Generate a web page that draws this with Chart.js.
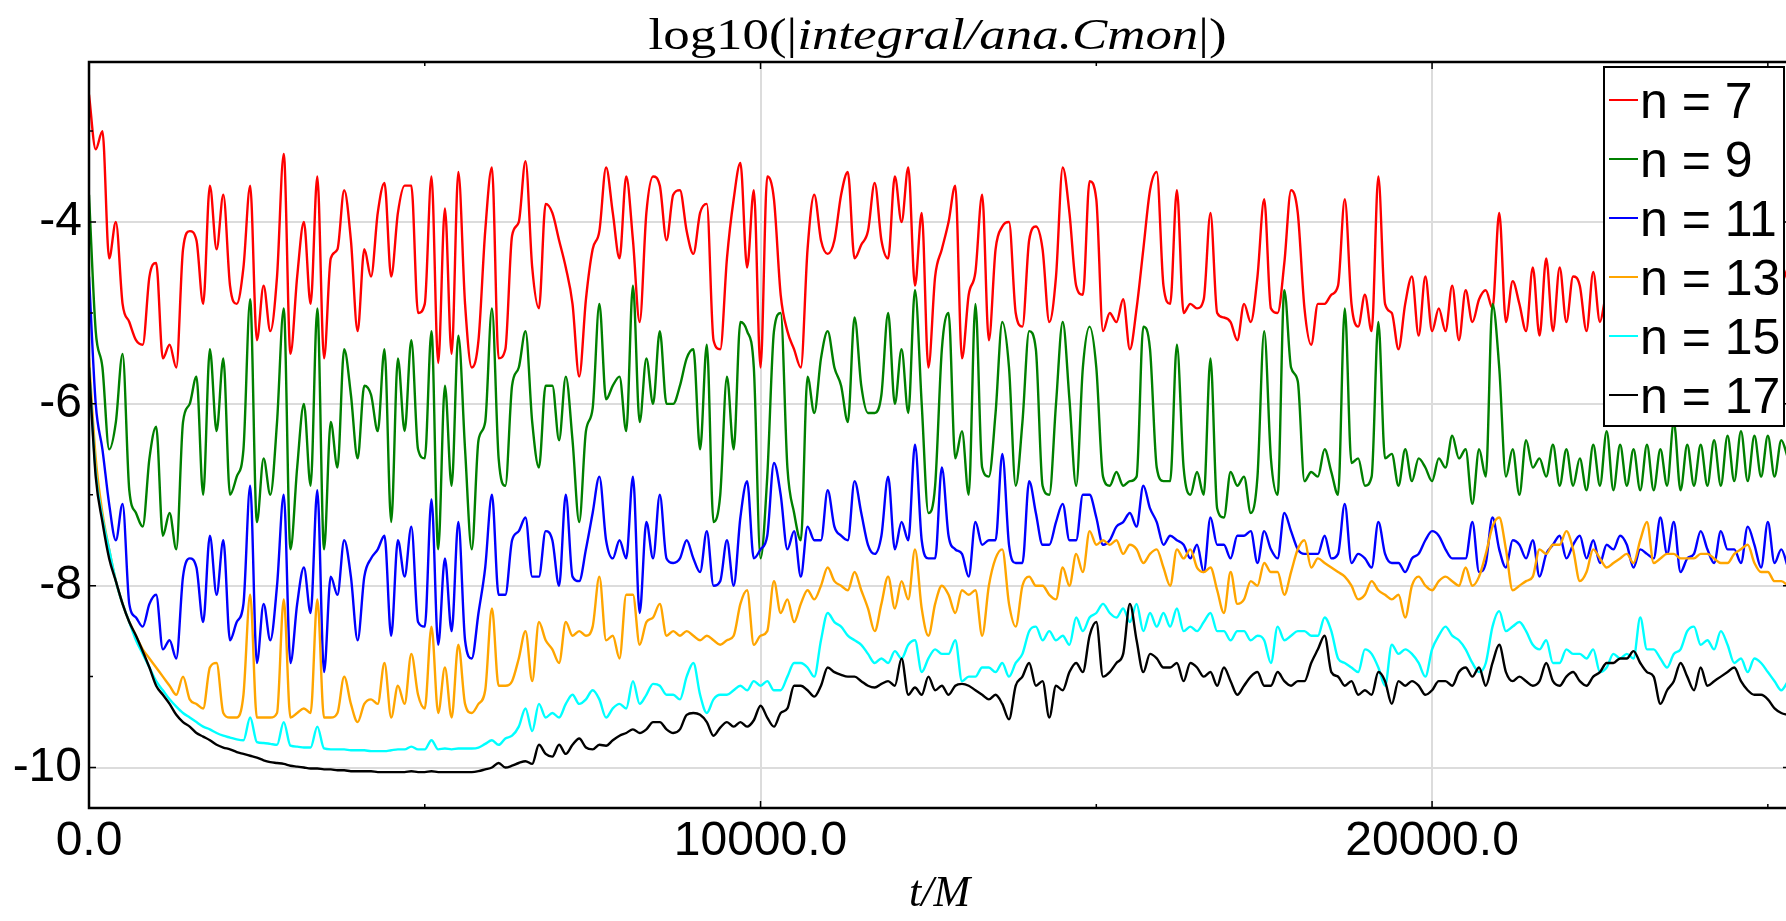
<!DOCTYPE html>
<html>
<head>
<meta charset="utf-8">
<script src="https://cdn.jsdelivr.net/npm/chart.js@4.4.0/dist/chart.umd.min.js"></script>
<style>
  html, body { margin: 0; padding: 0; background: #fff; overflow: hidden; }
  #wrap { width: 1792px; height: 921px; }
</style>
</head>
<body>
<div id="wrap"><canvas id="plot" width="1792" height="921"></canvas></div>
<script>
// sample times t/M: one sample every 100, from 0 to 25300
const tStep = 100;
const tCount = 254;
const tValues = Array.from({ length: tCount }, (_, i) => i * tStep);

const seriesLabels = ['n = 7', 'n = 9', 'n = 11', 'n = 13', 'n = 15', 'n = 17'];
const seriesColors = ['#ff0000', '#008000', '#0000ff', '#ffa500', '#00ffff', '#000000'];

// log10(|integral/ana.Cmon|) for each resolution
const n7 = [
  -2.6, -3.2, -3.0, -4.4, -4.0, -4.9, -5.1, -5.3, -5.35, -4.6,
  -4.45, -5.5, -5.35, -5.6, -4.3, -4.1, -4.2, -4.9, -3.6, -4.3,
  -3.7, -4.7, -4.9, -4.5, -3.6, -5.3, -4.7, -5.2, -4.6, -3.25,
  -5.45, -4.6, -4.0, -4.9, -3.5, -5.5, -4.4, -4.3, -3.65, -4.2,
  -5.2, -4.3, -4.6,
  -3.9, -3.57, -4.6, -3.9, -3.6, -3.6, -5.0, -4.9, -3.5, -5.55,
  -3.85, -5.45, -3.45, -4.9, -5.6, -5.3, -4.1, -3.4, -5.5, -5.4,
  -4.15, -4.0, -3.33, -4.5, -4.95, -3.8, -3.9, -4.2, -4.5, -4.9,
  -5.7, -4.85, -4.3, -4.1, -3.4, -3.9, -4.4, -3.5, -4.2, -5.1,
  -3.9, -3.5, -3.6, -4.2,
  -3.7, -3.65, -4.1, -4.35, -3.9, -3.8, -5.3, -5.4, -4.4, -3.75,
  -3.35, -4.5, -3.65, -5.6, -3.5, -3.75, -4.8, -5.2, -5.4, -5.6,
  -4.3, -3.7, -4.2, -4.35, -4.2, -3.7, -3.45, -4.4, -4.25, -4.1,
  -3.57, -4.2, -4.4, -3.5, -4.0, -3.4, -4.7, -3.9, -5.6, -4.6,
  -4.3, -4.0, -3.6, -5.5,
  -4.8, -4.55, -3.7, -5.3, -4.3, -4.05, -4.0, -5.0, -5.15, -4.2,
  -4.05, -4.3, -5.1, -4.6, -3.4, -3.9, -4.7, -4.8, -3.55, -3.75,
  -5.2, -5.0, -5.1, -4.85, -5.4, -4.95, -4.3, -3.65, -3.45, -4.7,
  -4.9, -3.65, -5.0, -4.9, -4.95, -4.85, -3.9, -5.0, -5.05, -5.1,
  -5.3, -4.9, -5.1, -4.6,
  -3.75, -4.95, -5.0, -4.45, -3.65, -3.9, -4.95, -5.35, -4.9, -4.9,
  -4.8, -4.7, -3.75, -4.9, -5.15, -4.8, -5.2, -3.5, -4.9, -5.0,
  -5.4, -4.9, -4.6, -5.25, -4.6, -5.2, -4.95, -5.2, -4.7, -5.3,
  -4.75, -5.1, -4.85, -4.75, -4.95, -3.9, -5.1, -4.65, -4.9, -5.2,
  -4.5, -5.25, -4.4,
  -5.2, -4.5, -5.1, -4.6, -4.7, -5.2, -4.55, -5.1, -4.8, -5.0,
  null, null, null, null, null, null, null, null, null, null,
  null, null, null, null, null, null, null, null, null, null,
  null, null, null, null, -4.7, -4.5
];

const n9 = [
  -3.7, -5.2, -5.6, -6.5, -6.2, -5.45, -6.95, -7.2, -7.35, -6.6,
  -6.25, -7.45, -7.2, -7.6, -6.2, -6.0, -5.7, -7.0, -5.4, -6.3,
  -5.5, -7.0, -6.8, -6.5, -4.85, -7.3, -6.6, -7.0, -6.2, -4.95,
  -7.6, -6.7, -6.0, -6.9, -4.95, -7.6, -6.2, -6.7, -5.4, -5.9,
  -6.6, -5.8, -5.9,
  -6.3, -5.4, -7.3, -5.5, -6.3, -5.3, -6.5, -6.6, -5.2, -7.6,
  -5.8, -6.9, -5.25, -6.5, -7.6, -6.4, -6.2, -4.95, -6.6, -6.9,
  -5.8, -5.6, -5.2, -6.2, -6.7, -5.8, -5.8, -6.4, -5.7, -6.4,
  -7.3, -6.3, -6.05, -4.9, -5.95, -5.8, -5.7, -6.3, -4.7, -6.2,
  -5.5, -6.0, -5.2, -6.0,
  -6.0, -5.8, -5.5, -5.4, -6.5, -5.35, -7.3, -7.0, -5.7, -6.5,
  -5.1, -5.2, -5.6, -7.7, -6.8, -5.2, -5.0, -6.7, -7.2, -7.5,
  -5.7, -6.1, -5.5, -5.2, -5.6, -5.8, -6.2, -5.05, -5.8, -6.1,
  -6.1, -5.9, -5.0, -6.0, -5.4, -6.1, -4.75, -6.0, -7.2, -6.9,
  -5.4, -5.0, -6.6, -6.3,
  -7.0, -4.9, -6.7, -6.8, -6.1, -5.1, -5.6, -6.9, -6.2, -5.2,
  -5.4, -6.9, -7.0, -6.0, -5.1, -5.95, -6.9, -5.6, -5.15, -5.6,
  -6.8, -6.9, -6.75, -6.9, -6.85, -6.8, -5.15, -5.4, -6.7, -6.85,
  -6.85, -5.35, -6.7, -7.0, -6.75, -7.0, -5.5, -7.15, -7.25, -6.75,
  -6.9, -6.8, -7.2, -6.8,
  -5.2, -6.6, -7.0, -4.75, -5.6, -5.75, -6.85, -6.75, -6.8, -6.5,
  -6.75, -7.0, -4.95, -6.65, -6.6, -6.9, -6.8, -5.1, -6.6, -6.55,
  -6.9, -6.5, -6.85, -6.6, -6.7, -6.85, -6.6, -6.7, -6.35, -6.6,
  -6.5, -7.1, -6.5, -6.8, -4.9, -5.6, -6.8, -6.5, -7.0, -6.4,
  -6.7, -6.6, -6.8,
  -6.45, -6.9, -6.5, -6.9, -6.6, -6.95, -6.45, -6.9, -6.3, -6.95,
  -6.45, -6.9, -6.5, -6.95, -6.45, -6.95, -6.5, -6.9, -6.2, -6.95,
  -6.45, -6.9, -6.45, -6.9, -6.4, -6.9, -6.35, -6.85, -6.3, -6.85,
  -6.35, -6.8, -6.35, -6.8, -6.4, -6.6
];

const n11 = [
  -4.6, -6.0, -6.5, -7.1, -7.5, -7.1, -8.2, -8.35, -8.45, -8.2,
  -8.1, -8.7, -8.6, -8.8, -7.9, -7.7, -7.8, -8.4, -7.45, -8.1,
  -7.5, -8.6, -8.4, -8.2, -6.9, -8.85, -8.2, -8.6, -8.0, -7.0,
  -8.85, -8.2, -7.8, -8.3, -6.95, -8.95, -7.9, -8.1, -7.5, -7.9,
  -8.6, -7.9, -7.7,
  -7.6, -7.45, -8.55, -7.5, -7.9, -7.35, -8.4, -8.45, -7.05, -8.65,
  -7.7, -8.5, -7.3, -8.6, -8.8, -8.3, -7.8, -7.0, -8.1, -8.1,
  -7.5, -7.4, -7.25, -7.9, -7.9, -7.4, -7.5, -8.0, -7.0, -7.9,
  -7.95, -7.6, -7.2, -6.8, -7.5, -7.7, -7.5, -7.7, -6.8, -8.3,
  -7.3, -7.7, -7.0, -7.7,
  -7.75, -7.7, -7.5, -7.7, -7.85, -7.4, -8.0, -7.95, -7.5, -8.0,
  -7.25, -6.85, -7.7, -7.6, -7.45, -6.65, -7.0, -7.6, -7.4, -7.9,
  -7.35, -7.5, -7.5, -6.95, -7.35, -7.45, -7.5, -6.85, -7.2, -7.55,
  -7.65, -7.45, -6.8, -7.6, -7.3, -7.5, -6.45, -7.5, -7.7, -7.7,
  -6.7, -7.45, -7.6, -7.65,
  -7.9, -7.3, -7.55, -7.5, -7.5, -6.55, -7.55, -7.75, -7.75, -6.85,
  -7.2, -7.55, -7.55, -7.3, -7.1, -7.5, -7.5, -7.0, -7.0, -7.25,
  -7.55, -7.5, -7.35, -7.3, -7.2, -7.35, -6.9, -7.15, -7.3, -7.55,
  -7.45, -7.5, -7.55, -7.7, -7.55, -7.85, -7.25, -7.55, -7.55, -7.7,
  -7.45, -7.45, -7.4, -7.75,
  -7.4, -7.6, -7.7, -7.2, -7.4, -7.6, -7.65, -7.65, -7.65, -7.45,
  -7.7, -7.65, -7.1, -7.75, -7.65, -7.7, -7.8, -7.3, -7.65, -7.75,
  -7.75, -7.85, -7.7, -7.65, -7.5, -7.4, -7.45, -7.6, -7.7, -7.7,
  -7.7, -7.3, -7.85, -7.75, -7.25, -7.6, -7.8, -7.5, -7.55, -7.7,
  -7.5, -7.9, -7.65,
  -7.55, -7.45, -7.7, -7.55, -7.45, -7.7, -7.5, -7.75, -7.55, -7.6,
  -7.45, -7.55, -7.8, -7.6, -7.65, -7.7, -7.25, -7.65, -7.3, -7.85,
  -7.7, -7.65, -7.4, -7.6, -7.75, -7.4, -7.6, -7.6, -7.75, -7.35,
  -7.55, -7.8, -7.3, -7.75, -7.6, -7.8
];

const n13 = [
  -5.5, -6.6, -7.2, -7.6, -7.95, -8.2, -8.4, -8.55, -8.7, -8.8,
  -8.9, -9.0, -9.1, -9.2, -9.0, -9.25, -9.3, -9.35, -8.9, -8.85,
  -9.4, -9.45, -9.45, -9.2, -8.1, -9.45, -9.45, -9.45, -9.4, -8.15,
  -9.45, -9.4, -9.35, -9.4, -8.15, -9.45, -9.45, -9.4, -9.0, -9.3,
  -9.5, -9.3, -9.25,
  -9.3, -8.85, -9.45, -9.1, -9.3, -8.75, -9.2, -9.35, -8.45, -9.4,
  -8.9, -9.45, -8.65, -9.3, -9.4, -9.3, -9.15, -8.25, -9.1, -9.1,
  -9.05, -8.8, -8.5, -9.05, -8.4, -8.6, -8.7, -8.85, -8.4, -8.55,
  -8.5, -8.55, -8.45, -7.9, -8.6, -8.55, -8.8, -8.1, -8.1, -8.65,
  -8.4, -8.35, -8.2, -8.55,
  -8.5, -8.55, -8.5, -8.55, -8.6, -8.55, -8.6, -8.65, -8.6, -8.55,
  -8.2, -8.05, -8.65, -8.55, -8.5, -7.95, -8.3, -8.15, -8.4, -8.2,
  -8.05, -8.15, -8.0, -7.8, -7.95, -8.0, -8.05, -7.85, -8.05, -8.25,
  -8.5, -8.2, -7.9, -8.25, -7.95, -8.15, -7.6, -8.25, -8.55, -8.2,
  -8.0, -8.1, -8.3, -8.05,
  -8.1, -8.05, -8.55, -8.0, -7.7, -7.6, -8.2, -8.45, -8.0, -7.9,
  -8.0, -8.0, -8.1, -8.15, -7.8, -8.0, -7.65, -7.85, -7.4, -7.55,
  -7.5, -7.55, -7.5, -7.65, -7.55, -7.6, -7.75, -7.65, -7.6, -7.8,
  -8.0, -7.6, -7.7, -7.6, -7.8, -7.85, -7.8, -8.05, -8.3, -7.85,
  -8.2, -8.15, -7.95, -8.0,
  -7.75, -7.85, -7.85, -8.1, -7.85, -7.6, -7.5, -7.8, -7.7, -7.75,
  -7.8, -7.85, -7.9, -8.0, -8.15, -8.1, -7.95, -8.05, -8.1, -8.15,
  -8.1, -8.35, -8.0, -7.9, -8.0, -8.05, -7.95, -7.9, -7.95, -8.0,
  -7.8, -8.0, -7.9, -7.65, -7.35, -7.25, -7.6, -8.05, -8.0, -7.95,
  -7.9, -7.6, -7.65,
  -7.55, -7.55, -7.4, -7.6, -7.95, -7.85, -7.6, -7.7, -7.8, -7.75,
  -7.7, -7.65, -7.75, -7.5, -7.3, -7.75, -7.7, -7.65, -7.65, -7.7,
  -7.7, -7.7, -7.65, -7.65, -7.7, -7.75, -7.75, -7.65, -7.6, -7.55,
  -7.75, -7.85, -7.85, -7.95, -7.95, -8.0
];

const n15 = [
  -5.6, -6.75, -7.25, -7.6, -7.95, -8.2, -8.4, -8.6, -8.75, -8.9,
  -9.05, -9.15, -9.25, -9.33, -9.4, -9.45, -9.5, -9.55, -9.58, -9.62,
  -9.65, -9.67, -9.69, -9.7, -9.45, -9.72, -9.73, -9.74, -9.75, -9.5,
  -9.76, -9.77, -9.78, -9.78, -9.55, -9.79, -9.8, -9.8, -9.8, -9.81,
  -9.81, -9.81, -9.82,
  -9.82, -9.82, -9.81, -9.8, -9.8, -9.77, -9.8, -9.8, -9.7, -9.8,
  -9.79, -9.8, -9.79, -9.79, -9.79, -9.78, -9.74, -9.7, -9.75, -9.68,
  -9.65, -9.55, -9.35, -9.6, -9.3, -9.45, -9.4, -9.45, -9.3, -9.2,
  -9.3, -9.25, -9.15, -9.25, -9.45, -9.35, -9.3, -9.35, -9.05, -9.3,
  -9.2, -9.08, -9.1, -9.2,
  -9.2, -9.25, -9.0, -8.85, -9.2, -9.4, -9.25, -9.2, -9.2, -9.15,
  -9.1, -9.15, -9.05, -9.1, -9.05, -9.15, -9.15, -9.0, -8.85, -8.85,
  -8.9, -9.0, -8.6, -8.3, -8.4, -8.45, -8.55, -8.6, -8.65, -8.75,
  -8.85, -8.8, -8.85, -8.72, -8.8, -8.65, -8.6, -8.95, -8.8, -8.7,
  -8.75, -8.75, -8.6, -9.05,
  -9.0, -9.0, -8.9, -8.9, -8.95, -8.85, -9.0, -8.85, -8.75, -8.5,
  -8.45, -8.6, -8.5, -8.6, -8.55, -8.65, -8.35, -8.5, -8.35, -8.3,
  -8.2, -8.3, -8.35, -8.25, -8.4, -8.2, -8.5, -8.3, -8.45, -8.3,
  -8.45, -8.25, -8.5, -8.45, -8.5, -8.4, -8.3, -8.5, -8.5, -8.6,
  -8.5, -8.5, -8.6, -8.55,
  -8.6, -8.85, -8.45, -8.6, -8.55, -8.5, -8.5, -8.55, -8.55, -8.35,
  -8.5, -8.8, -8.85, -8.9, -8.95, -8.7, -8.75, -8.9, -9.1, -8.65,
  -8.75, -8.7, -8.75, -8.85, -9.0, -8.7, -8.55, -8.45, -8.55, -8.6,
  -8.7, -8.85, -8.95, -8.85, -8.45, -8.28, -8.5, -8.45, -8.4, -8.5,
  -8.65, -8.7, -8.6,
  -8.85, -8.85, -8.7, -8.75, -8.75, -8.8, -8.7, -8.95, -8.9, -8.75,
  -8.8, -8.75, -8.8, -8.35, -8.7, -8.7, -8.8, -8.9, -8.75, -8.7,
  -8.5, -8.45, -8.65, -8.6, -8.7, -8.5, -8.65, -8.85, -8.8, -8.95,
  -8.8, -8.85, -8.95, -9.05, -9.15, -9.05
];

const n17 = [
  -5.6, -6.8, -7.3, -7.7, -7.95, -8.2, -8.4, -8.55, -8.72, -8.9,
  -9.1, -9.2, -9.3, -9.42, -9.5, -9.55, -9.62, -9.66, -9.7, -9.75,
  -9.78, -9.8, -9.83, -9.85, -9.87, -9.89, -9.92, -9.94, -9.95, -9.96,
  -9.98, -9.99, -10.0, -10.01, -10.01, -10.02, -10.02, -10.03, -10.03, -10.04,
  -10.04, -10.04, -10.04,
  -10.05, -10.05, -10.05, -10.05, -10.05, -10.04, -10.05, -10.05, -10.04, -10.05,
  -10.05, -10.05, -10.05, -10.05, -10.05, -10.04, -10.02, -10.0, -9.95, -10.0,
  -9.98, -9.95, -9.93, -9.96, -9.75, -9.85, -9.88, -9.75, -9.85, -9.75,
  -9.68, -9.78, -9.8, -9.75, -9.76, -9.7, -9.65, -9.62, -9.58, -9.62,
  -9.58, -9.5, -9.5, -9.58,
  -9.62, -9.58, -9.42, -9.4, -9.42, -9.5, -9.65, -9.56, -9.5, -9.55,
  -9.5, -9.55, -9.48, -9.32, -9.45, -9.55, -9.4, -9.35, -9.1, -9.1,
  -9.15, -9.22, -9.1, -8.9, -8.95, -8.98, -9.0, -9.0, -9.05, -9.1,
  -9.12, -9.08, -9.05, -9.1, -8.8, -9.2, -9.12, -9.2, -9.0, -9.15,
  -9.1, -9.2, -9.1, -9.08,
  -9.1, -9.15, -9.2, -9.25, -9.2, -9.3, -9.47, -9.1, -9.0, -8.85,
  -9.1, -9.05, -9.45, -9.1, -9.15, -8.95, -8.85, -8.95, -8.55, -8.4,
  -9.0, -8.95, -8.85, -8.75, -8.2, -8.6, -8.95, -8.75, -8.8, -8.9,
  -8.9, -8.85, -9.05, -8.85, -8.9, -9.0, -8.95, -9.1, -8.9, -9.05,
  -9.2, -9.1, -9.0, -8.95,
  -9.1, -9.1, -8.95, -9.05, -9.1, -9.05, -9.05, -8.85, -8.7, -8.55,
  -8.95, -9.0, -9.1, -9.05, -9.2, -9.15, -9.2, -8.95, -9.05, -9.3,
  -9.05, -9.1, -9.05, -9.1, -9.2, -9.15, -9.05, -9.05, -9.1, -8.95,
  -8.9, -9.0, -8.9, -9.1, -8.85, -8.65, -8.95, -9.05, -9.0, -9.05,
  -9.1, -9.05, -8.85,
  -9.05, -9.1, -9.0, -8.95, -9.05, -9.1, -9.0, -8.95, -8.85, -8.85,
  -8.8, -8.8, -8.72, -8.85, -8.95, -9.0, -9.3, -9.15, -9.05, -8.85,
  -9.0, -9.15, -8.9, -9.1, -9.05, -9.0, -8.95, -8.9, -9.05, -9.15,
  -9.2, -9.2, -9.25, -9.35, -9.4, -9.42
];

const seriesValues = [n7, n9, n11, n13, n15, n17];

const xMajorTicks = [0, 10000, 20000];
const xMinorTicks = [5000, 15000, 25000];
const yMajorTicks = [-10, -8, -6, -4];
const yMinorTicks = [-9, -7, -5, -3];

const sansFont = "'Liberation Sans', Arial, Helvetica, sans-serif";
const serifFont = "'Liberation Serif', 'DejaVu Serif', 'Times New Roman', serif";

// box frame plus inward tick marks on every side
const frame = {
  id: 'frame',
  afterDatasetsDraw(chart) {
    const { ctx, chartArea: a, scales: { x, y } } = chart;
    ctx.save();
    ctx.strokeStyle = '#000';
    ctx.lineWidth = 1.5;
    ctx.beginPath();
    const xTick = (v, len) => {
      const p = x.getPixelForValue(v);
      ctx.moveTo(p, a.bottom); ctx.lineTo(p, a.bottom - len);
      ctx.moveTo(p, a.top); ctx.lineTo(p, a.top + len);
    };
    const yTick = (v, len) => {
      const p = y.getPixelForValue(v);
      ctx.moveTo(a.left, p); ctx.lineTo(a.left + len, p);
      ctx.moveTo(a.right, p); ctx.lineTo(a.right - len, p);
    };
    xMajorTicks.forEach(v => xTick(v, 7));
    xMinorTicks.forEach(v => xTick(v, 4));
    yMajorTicks.forEach(v => yTick(v, 7));
    yMinorTicks.forEach(v => yTick(v, 4));
    ctx.stroke();
    ctx.lineWidth = 2.5;
    ctx.strokeRect(a.left, a.top, a.right - a.left, a.bottom - a.top);
    ctx.restore();
  }
};

// plot title with the math part in italics
const titleParts = [['log10(|', 'normal'], ['integral/ana.Cmon', 'italic'], ['|)', 'normal']];
const mathTitle = {
  id: 'mathTitle',
  afterDraw(chart) {
    const { ctx, chartArea: a } = chart;
    const size = 44;
    ctx.save();
    ctx.fillStyle = '#000';
    ctx.textBaseline = 'alphabetic';
    let total = 0;
    const widths = titleParts.map(([txt, style]) => {
      ctx.font = `${style} ${size}px ${serifFont}`;
      const w = ctx.measureText(txt).width;
      total += w;
      return w;
    });
    const target = 578;
    const sx = target / total;
    const cx = (a.left + a.right) / 2 - 2;
    ctx.translate(cx - target / 2, 49);
    ctx.scale(sx, 1);
    let px = 0;
    titleParts.forEach(([txt, style], i) => {
      ctx.font = `${style} ${size}px ${serifFont}`;
      ctx.fillText(txt, px, 0);
      px += widths[i];
    });
    ctx.restore();
  }
};

// boxed legend in the upper right corner
const boxLegend = {
  id: 'boxLegend',
  afterDraw(chart) {
    const { ctx } = chart;
    const left = 1604, top = 67, right = 1784, bottom = 426;
    ctx.save();
    ctx.fillStyle = '#fff';
    ctx.fillRect(left, top, right - left, bottom - top);
    ctx.strokeStyle = '#000';
    ctx.lineWidth = 2;
    ctx.strokeRect(left, top, right - left, bottom - top);
    ctx.font = `50px ${sansFont}`;
    ctx.textBaseline = 'alphabetic';
    seriesLabels.forEach((label, i) => {
      const base = 118 + i * 59;
      ctx.strokeStyle = seriesColors[i];
      ctx.lineWidth = 2;
      ctx.beginPath();
      ctx.moveTo(1609, base - 18);
      ctx.lineTo(1638, base - 18);
      ctx.stroke();
      ctx.fillStyle = '#000';
      ctx.fillText(label, 1640, base);
    });
    ctx.restore();
  }
};

const datasets = seriesValues.map((vals, i) => ({
  label: seriesLabels[i],
  data: tValues.map((t, j) => ({ x: t, y: vals[j] })),
  borderColor: seriesColors[i],
  backgroundColor: seriesColors[i],
  borderWidth: 2.4,
  pointRadius: 0,
  cubicInterpolationMode: 'monotone',
  fill: false,
  order: seriesValues.length - 1 - i
}));

new Chart(document.getElementById('plot'), {
  type: 'line',
  data: { datasets },
  options: {
    responsive: false,
    animation: false,
    devicePixelRatio: 1,
    layout: { padding: { top: 62, right: 2, left: 0, bottom: 0 } },
    plugins: { legend: { display: false }, tooltip: { enabled: false } },
    scales: {
      x: {
        type: 'linear',
        min: 0,
        max: 25330,
        afterBuildTicks: s => { s.ticks = xMajorTicks.map(v => ({ value: v })); },
        afterFit: s => { s.height = 113; },
        grid: { color: '#dcdcdc', lineWidth: 2, drawTicks: false },
        border: { display: false },
        ticks: {
          padding: 5,
          color: '#000',
          maxRotation: 0,
          autoSkip: false,
          font: { family: sansFont, size: 48 },
          callback: v => Number(v).toFixed(1)
        },
        title: {
          display: true,
          text: 't/M',
          color: '#000',
          padding: 0,
          font: { family: serifFont, size: 44, style: 'italic' }
        }
      },
      y: {
        type: 'linear',
        min: -10.445,
        max: -2.24,
        afterBuildTicks: s => { s.ticks = yMajorTicks.map(v => ({ value: v })); },
        afterFit: s => { s.width = 89; },
        grid: { color: '#dcdcdc', lineWidth: 2, drawTicks: false },
        border: { display: false },
        ticks: {
          padding: 7,
          color: '#000',
          font: { family: sansFont, size: 48 },
          callback: v => String(v)
        }
      }
    }
  },
  plugins: [frame, mathTitle, boxLegend]
});
</script>
</body>
</html>
